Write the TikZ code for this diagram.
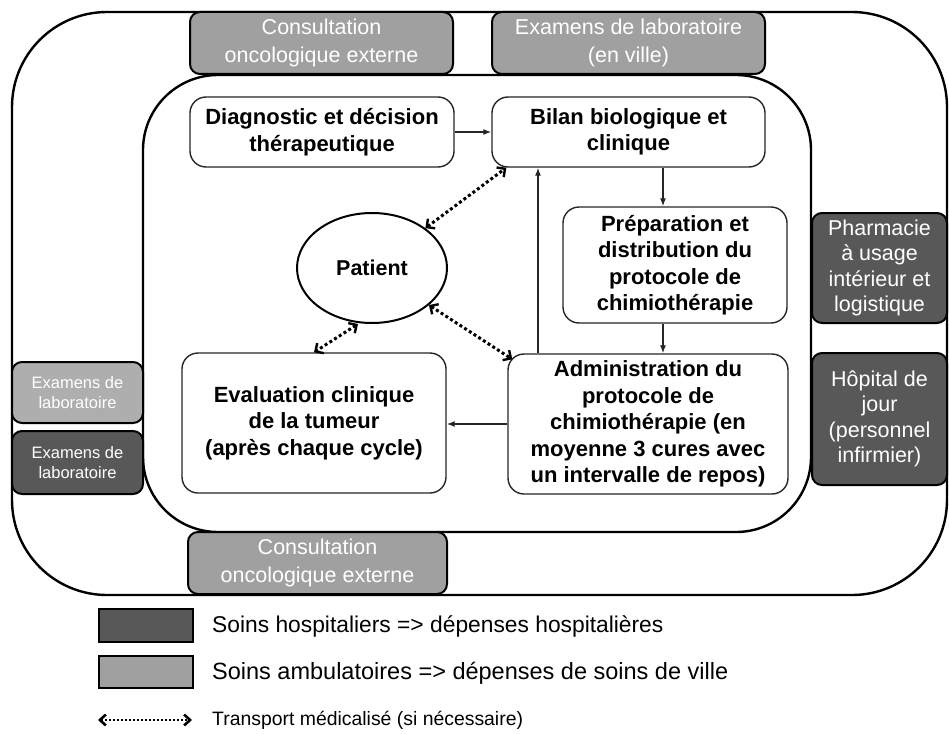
\documentclass[tikz,border=0pt]{standalone}
\usepackage{fontspec}
\setmainfont{Liberation Sans}
\usetikzlibrary{arrows.meta,shapes.geometric}
\definecolor{ambu}{HTML}{A0A0A0}
\definecolor{hosp}{HTML}{585858}
\begin{document}
\begin{tikzpicture}[x=1pt,y=-1pt,
  frame/.style={draw=black, line width=2.4pt, inner sep=0pt},
  grayboxbase/.style={draw=black, line width=2pt, rounded corners=10pt, inner sep=0pt, align=center, text=white},
  ambubox/.style={grayboxbase, fill=ambu},
  hospbox/.style={grayboxbase, fill=hosp},
  stepbox/.style={draw=black!85, line width=1.4pt, rounded corners=16pt, fill=white, inner sep=0pt, align=center, font=\fontsize{22}{26.5}\selectfont\bfseries},
  flow/.style={draw=black!85, line width=1.3pt, -{Latex[length=8pt,width=6pt]}},
  barb/.tip={Straight Barb[length=6pt,width=12pt,line width=2.4pt]},
  transport/.style={line width=3pt, dash pattern=on 3pt off 2.6pt, barb-barb},
  legtext/.style={anchor=west, inner sep=0pt},
]
\useasboundingbox (0,0) rectangle (949,733);

% outer (care pathway) and inner (treatment cycle) frames
\node[frame, rounded corners=95pt, minimum width=935pt, minimum height=583pt] (outer) at (479.5,303.5) {};
\node[frame, rounded corners=75pt, minimum width=668pt, minimum height=457pt] (inner) at (477,303.5) {};

% service boxes on the frame
\node[ambubox, minimum width=263pt, minimum height=62pt, font=\fontsize{21.5}{28}\selectfont] (consulttop) at (321.5,43) {Consultation\\oncologique externe};
\node[ambubox, minimum width=273pt, minimum height=62pt, font=\fontsize{21.5}{28}\selectfont] (labville) at (628.5,43) {Examens de laboratoire\\(en ville)};
\node[ambubox, fill=ambu!85!white, minimum width=131pt, minimum height=61pt, font=\fontsize{16.5}{20}\selectfont] (labamb) at (77.5,392.5) {Examens de\\laboratoire};
\node[hospbox, minimum width=131pt, minimum height=63pt, font=\fontsize{16.5}{20}\selectfont] (labhosp) at (77.5,462.5) {Examens de\\laboratoire};
\node[hospbox, minimum width=135pt, minimum height=110pt, font=\fontsize{21.5}{25.5}\selectfont] (pharma) at (879.5,268) {Pharmacie\\à usage\\intérieur et\\logistique};
\node[hospbox, minimum width=135pt, minimum height=132pt, font=\fontsize{21.5}{25.5}\selectfont] (hdj) at (879.5,419) {Hôpital de\\jour\\(personnel\\infirmier)};
\node[ambubox, minimum width=259pt, minimum height=62pt, font=\fontsize{21.5}{28}\selectfont] (consultbot) at (317.5,563) {Consultation\\oncologique externe};

% steps of the cycle
\node[stepbox, minimum width=264pt, minimum height=70pt] (diag) at (322,132) {Diagnostic et décision\\thérapeutique};
\node[stepbox, minimum width=273pt, minimum height=70pt] (bilan) at (628.5,132) {Bilan biologique et\\clinique};
\node[stepbox, minimum width=224pt, minimum height=116pt] (prep) at (675,265) {Préparation et\\distribution du\\protocole de\\chimiothérapie};
\node[stepbox, minimum width=280pt, minimum height=140pt] (admin) at (648,424) {Administration du\\protocole de\\chimiothérapie (en\\moyenne 3 cures avec\\un intervalle de repos)};
\node[stepbox, minimum width=264pt, minimum height=140pt] (eval) at (314,423) {Evaluation clinique\\de la tumeur\\(après chaque cycle)};
\node[ellipse, draw=black, line width=2pt, fill=white, minimum width=150pt, minimum height=110pt, inner sep=0pt, font=\fontsize{21.5}{26.5}\selectfont\bfseries] (patient) at (372,268) {Patient};

% flow between steps
\coordinate (xa) at (663,0);
\coordinate (xb) at (538,0);
\draw[flow] (diag.east) -- (bilan.west);
\draw[flow] (bilan.south -| xa) -- (prep.north -| xa);
\draw[flow] (prep.south -| xa) -- (admin.north -| xa);
\draw[flow] (admin.north -| xb) -- (bilan.south -| xb);
\draw[flow] (admin.west) -- (admin.west -| eval.east);

% patient transport
\draw[transport] (patient) -- ([xshift=15pt]bilan.south west);
\draw[transport] (patient) -- ([shift={(5,6)}]admin.north west);
\draw[transport] ([xshift=-14pt]patient.south) -- (eval.north);

% legend
\node[hospbox, rounded corners=0pt, minimum width=94pt, minimum height=33pt] (leghosp) at (146,625.5) {};
\node[ambubox, rounded corners=0pt, minimum width=94pt, minimum height=32pt] (legambu) at (146,672) {};
\coordinate (legA) at (98,720);
\coordinate (legB) at (192,720);
\draw[line width=1.8pt, dash pattern=on 1.8pt off 2.2pt,
  {Straight Barb[length=6pt,width=11pt,line width=2.6pt]}-{Straight Barb[length=6pt,width=11pt,line width=2.6pt]}] (legA) -- (legB);
\node[legtext, font=\fontsize{22.8}{26}\selectfont] (leghosptxt) at (212,626) {Soins hospitaliers => dépenses hospitalières};
\node[legtext, font=\fontsize{23.5}{26}\selectfont] (legambutxt) at (212,673) {Soins ambulatoires => dépenses de soins de ville};
\node[legtext, font=\fontsize{19.4}{23}\selectfont] (legtranstxt) at (212,720) {Transport médicalisé (si nécessaire)};
\end{tikzpicture}
\end{document}
